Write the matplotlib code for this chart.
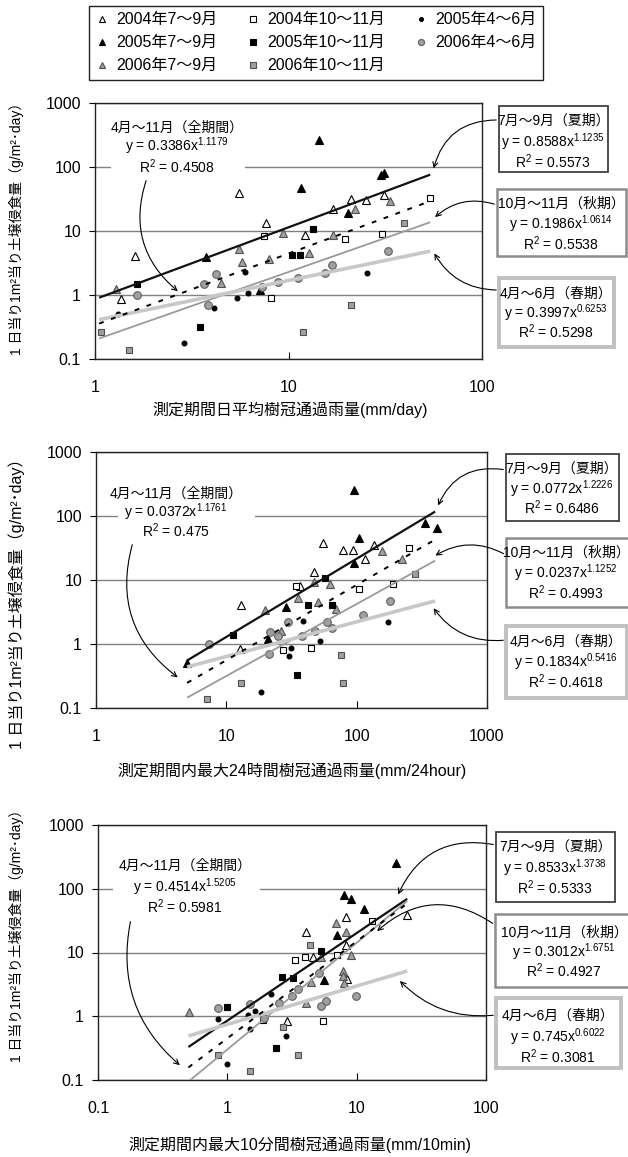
import numpy as np
import matplotlib
matplotlib.use('Agg')
import matplotlib.pyplot as plt
from matplotlib.lines import Line2D
from matplotlib.patches import Rectangle, FancyArrowPatch

plt.rcParams['font.family'] = ['Liberation Sans', 'Noto Sans CJK JP']
plt.rcParams['mathtext.fontset'] = 'custom'
plt.rcParams['mathtext.rm'] = 'Liberation Sans'
plt.rcParams['mathtext.it'] = 'Liberation Sans'
plt.rcParams['mathtext.default'] = 'regular'

# 系列 (凡例の列順)
series_labels = ['2004年7～9月', '2005年7～9月', '2006年7～9月',
                 '2004年10～11月', '2005年10～11月', '2006年10～11月',
                 '2005年4～6月', '2006年4～6月']

# --- パネル1: 日平均樹冠通過雨量 ---
p1_x = [[1.61, 1.37, 5.57, 7.64, 12.1, 17.0, 21.0, 25.2, 31.1],
        [3.76, 11.6, 14.3, 20.4, 30.2, 31.0, 7.15],
        [1.28, 5.57, 5.75, 7.95, 9.4, 4.47, 12.8, 17.0, 22.0, 33.6],
        [7.46, 8.15, 19.6, 30.5, 54],
        [1.65, 3.47, 10.4, 11.4, 13.4],
        [1.07, 1.50, 11.9, 21.0, 39.4],
        [1.32, 2.87, 4.1, 5.4, 5.98, 6.17, 25.4],
        [1.65, 3.64, 3.85, 4.23, 7.26, 8.8, 11.2, 15.4, 16.8, 32.7]]
p1_y = [[4.07, 0.88, 38.8, 13.2, 8.7, 21.8, 31.3, 30.5, 36.5],
        [3.88, 47.5, 263, 18.9, 74, 80, 1.2],
        [1.23, 5.17, 3.3, 3.6, 9.2, 1.56, 4.5, 8.55, 21.8, 29.4],
        [8.35, 0.90, 7.4, 8.9, 33],
        [1.47, 0.32, 4.17, 4.27, 10.9],
        [0.26, 0.138, 0.26, 0.71, 13.2],
        [0.51, 0.18, 0.63, 0.89, 2.32, 1.09, 2.23],
        [1.0, 1.5, 0.71, 2.15, 1.35, 1.6, 1.82, 2.23, 2.9, 4.8]]

# --- パネル2: 最大24時間樹冠通過雨量 ---
p2_x = [[12.9, 12.7, 54.7, 79, 93.7, 115, 135, 36.9, 47.2],
        [94.8, 103.5, 96, 332, 415, 28.6, 20.9, 5.0],
        [19.7, 26.5, 35.6, 46.7, 50.7, 62.7, 69.8, 156, 222],
        [34.3, 27.4, 45, 105, 190, 254],
        [11.3, 34.7, 42, 57.4, 64.2],
        [7.15, 12.9, 75.7, 78, 282],
        [18.4, 30.1, 31.6, 38.9, 51.9, 173],
        [7.36, 21.4, 21.7, 25, 29.8, 37.8, 47.8, 58.7, 64.2, 112, 181]]
p2_y = [[4.09, 0.85, 38, 29.3, 29.3, 21, 35.8, 8.2, 13.2],
        [257, 45.5, 18.6, 78, 66, 3.85, 1.2, 0.51],
        [3.34, 1.57, 5.19, 9.2, 4.5, 8.7, 3.54, 28.2, 21.2],
        [8.2, 0.82, 0.87, 7.25, 8.6, 32],
        [1.4, 0.33, 4.0, 10.9, 4.1],
        [0.136, 0.25, 0.68, 0.25, 12.4],
        [0.18, 0.64, 0.87, 2.25, 1.1, 2.17],
        [1.0, 0.70, 1.54, 1.32, 2.17, 1.32, 1.61, 2.17, 1.77, 2.79, 4.77]]

# --- パネル3: 最大10分間樹冠通過雨量 ---
p3_x = [[4.03, 8.32, 24.6, 4.59, 8.32, 8.37, 2.88],
        [20.3, 7.98, 9.1, 11.4, 7.09, 5.59],
        [0.506, 6.88, 8.22, 9.1, 7.89, 7.85, 7.98, 4.41, 4.03, 5.27],
        [13.2, 3.34, 3.98, 7.0, 5.53, 1.88],
        [1.0, 2.66, 3.2, 5.33, 2.36],
        [4.36, 2.68, 3.52, 0.84, 1.51],
        [0.84, 2.19, 1.51, 2.83, 1.0, 1.64, 1.45],
        [0.84, 1.51, 1.92, 2.52, 3.14, 3.52, 5.11, 5.33, 5.76, 9.8]]
p3_y = [[20.6, 35.9, 39, 8.65, 13.2, 3.86, 0.855],
        [253, 78.6, 69.7, 47.3, 18.9, 3.77],
        [1.18, 28.9, 20.9, 9.3, 5.2, 4.35, 3.34, 3.42, 1.6, 8.45],
        [31, 7.5, 8.45, 9.0, 0.83, 0.88],
        [1.38, 4.2, 4.0, 10.7, 0.314],
        [12.9, 0.67, 0.25, 0.25, 0.137],
        [0.89, 2.22, 0.63, 0.485, 0.176, 1.2, 1.05],
        [1.34, 1.56, 0.94, 1.6, 2.11, 2.69, 4.8, 1.47, 1.76, 2.11]]

# 近似式 y = a x^b (夏期, 秋期, 春期, 全期間)
trend_names = ['7月～9月（夏期）', '10月～11月（秋期）', '4月～6月（春期）', '4月～11月（全期間）']
p1_a = [0.8588, 0.1986, 0.3997, 0.3386]
p1_b = [1.1235, 1.0614, 0.6253, 1.1179]
p1_r2 = [0.5573, 0.5538, 0.5298, 0.4508]
p1_range = [1.05, 54]
p2_a = [0.0772, 0.0237, 0.1834, 0.0372]
p2_b = [1.2226, 1.1252, 0.5416, 1.1761]
p2_r2 = [0.6486, 0.4993, 0.4618, 0.475]
p2_range = [5, 400]
p3_a = [0.8533, 0.3012, 0.745, 0.4514]
p3_b = [1.3738, 1.6751, 0.6022, 1.5205]
p3_r2 = [0.5333, 0.4927, 0.3081, 0.5981]
p3_range = [0.5, 24.6]

x_ticks = [[1, 10, 100], [1, 10, 100, 1000], [0.1, 1, 10, 100]]
x_ticklabels = [['1', '10', '100'], ['1', '10', '100', '1000'], ['0.1', '1', '10', '100']]
y_ticks = [0.1, 1, 10, 100, 1000]
y_ticklabels = ['0.1', '1', '10', '100', '1000']
xlabels = ['測定期間日平均樹冠通過雨量(mm/day)',
           '測定期間内最大24時間樹冠通過雨量(mm/24hour)',
           '測定期間内最大10分間樹冠通過雨量(mm/10min)']
ylabel = '1 日当り1m²当り土壌侵食量（g/m²･day）'

# スタイル
markers = ['^', '^', '^', 's', 's', 's', 'o', 'o']
faces = ['white', 'black', '#a0a0a0', 'white', 'black', '#a0a0a0', 'black', '#a0a0a0']
edges = ['black', 'black', '#505050', 'black', 'black', '#505050', 'black', '#606060']
msizes = [6, 6, 6, 5, 5, 5, 3.5, 5.5]
t_colors = ['#111111', '#9a9a9a', '#c8c8c8', 'black']
t_lw = [1.6, 1.3, 2.6, 1.4]
t_ls = ['-', '-', '-', (0, (2.5, 4))]
box_ec = ['#404040', '#8c8c8c', '#c0c0c0']
box_lw = [1.3, 1.8, 2.8]

W, H = 628, 1157
fig = plt.figure(figsize=(W / 100, H / 100), dpi=100)


def fx(px):
    return px / W


def fy(py):
    return 1 - py / H


# レイアウト (ピクセル, 上が0)
ax_px = [(95, 103, 482, 359), (96, 452, 487, 708), (98, 825, 486, 1080)]
box_px = [[(499, 106, 608, 172, 553, [120, 142, 163]),
           (497, 189, 626, 256, 561, [203, 224, 245]),
           (499, 278, 614, 347, 556, [293, 313, 333])],
          [(506, 454, 619, 521, 562, [468, 489, 509]),
           (506, 538, 640, 607, 566, [552, 573, 594]),
           (506, 626, 627, 698, 566, [641, 662, 683])],
          [(496, 832, 615, 902, 555, [846, 868, 889]),
           (495, 914, 640, 987, 564, [932, 952, 972]),
           (496, 998, 621, 1068, 558, [1015, 1037, 1058])]]
all_px = [(177, [127, 146, 168], (111, 117, 245, 178)),
          (176, [493, 512, 532], (118, 483, 255, 543)),
          (185, [865, 887, 908], (113, 855, 260, 918))]
arrows_px = [[((499, 120), (433, 171), 0.4), ((497, 205), (433, 219), 0.3),
              ((499, 290), (433, 251), -0.3), ((147, 178), (180, 293), 0.35)],
             [((506, 470), (437, 508), 0.4), ((506, 555), (433, 557), 0.3),
              ((506, 640), (432, 606), -0.3), ((133, 542), (180, 679), 0.35)],
             [((496, 845), (397, 897), 0.4), ((495, 925), (375, 933), 0.4),
              ((496, 1015), (398, 979), -0.25), ((131, 919), (182, 1067), 0.3)]]
xlabel_px = [(290, 410), (292, 771), (300, 1145)]
ylabel_px = [(17, 225, 10), (17, 600, 11.5), (17, 932, 10)]

panels = [(p1_x, p1_y, p1_a, p1_b, p1_r2, p1_range),
          (p2_x, p2_y, p2_a, p2_b, p2_r2, p2_range),
          (p3_x, p3_y, p3_a, p3_b, p3_r2, p3_range)]

for i, (px_, py_, pa, pb, pr2, prange) in enumerate(panels):
    l, t, r, b = ax_px[i]
    ax = fig.add_axes([fx(l), fy(b), fx(r) - fx(l), fy(t) - fy(b)])
    ax.set_xscale('log')
    ax.set_yscale('log')
    ax.set_xlim(x_ticks[i][0], x_ticks[i][-1])
    ax.set_ylim(0.1, 1000)
    ax.set_xticks(x_ticks[i], x_ticklabels[i])
    ax.set_yticks(y_ticks, y_ticklabels)
    ax.minorticks_off()
    ax.tick_params(axis='x', direction='in', length=5, pad=15, labelsize=11.5)
    ax.tick_params(axis='y', direction='out', length=4, pad=6, labelsize=11.5)
    for s in ax.spines.values():
        s.set_color('#222222')
        s.set_linewidth(1)
    ax.yaxis.grid(True, color='#808080', lw=1)
    ax.set_axisbelow(True)

    for k in range(8):
        ax.plot(px_[k], py_[k], ls='none', marker=markers[k], mfc=faces[k],
                mec=edges[k], ms=msizes[k], mew=0.8, zorder=3)

    xs = np.array(prange)
    for k in range(4):
        ax.plot(xs, pa[k] * xs ** pb[k], color=t_colors[k], lw=t_lw[k],
                ls=t_ls[k], zorder=4, solid_capstyle='butt')

    # 季節別の近似式ボックス
    for k in range(3):
        x0, y0, x1, y1, cx, lys = box_px[i][k]
        fig.add_artist(Rectangle((fx(x0), fy(y1)), fx(x1) - fx(x0), fy(y0) - fy(y1),
                                 transform=fig.transFigure, fc='white',
                                 ec=box_ec[k], lw=box_lw[k], zorder=5))
        lines = [trend_names[k], f'y = {pa[k]}x$^{{{pb[k]}}}$', f'R$^{{2}}$ = {pr2[k]}']
        for ly, txt in zip(lys, lines):
            fig.text(fx(cx), fy(ly + 5), txt, ha='center', va='baseline',
                     fontsize=10, zorder=6)

    # 全期間
    cx, lys, (rx0, ry0, rx1, ry1) = all_px[i]
    fig.add_artist(Rectangle((fx(rx0), fy(ry1)), fx(rx1) - fx(rx0), fy(ry0) - fy(ry1),
                             transform=fig.transFigure, fc='white', ec='none', zorder=5))
    lines = [trend_names[3], f'y = {pa[3]}x$^{{{pb[3]}}}$', f'R$^{{2}}$ = {pr2[3]}']
    for ly, txt in zip(lys, lines):
        fig.text(fx(cx), fy(ly + 5), txt, ha='center', va='baseline', fontsize=10, zorder=6)

    for (ax0, ay0), (ax1, ay1), rad in arrows_px[i]:
        fig.add_artist(FancyArrowPatch((fx(ax0), fy(ay0)), (fx(ax1), fy(ay1)),
                                       transform=fig.transFigure, arrowstyle='->',
                                       connectionstyle=f'arc3,rad={rad}',
                                       mutation_scale=9, lw=0.8, color='black', zorder=7))

    fig.text(fx(xlabel_px[i][0]), fy(xlabel_px[i][1]), xlabels[i], ha='center',
             va='center', fontsize=11.5)
    yx, yy, yfs = ylabel_px[i]
    fig.text(fx(yx), fy(yy), ylabel, ha='center', va='center', rotation=90, fontsize=yfs)

# 凡例
handles = [Line2D([], [], ls='none', marker=markers[k], mfc=faces[k], mec=edges[k],
                  ms=msizes[k] * 0.8, mew=0.8) for k in range(8)]
fig.legend(handles, series_labels, ncol=3, loc='upper left',
           bbox_to_anchor=(fx(89), fy(81), fx(543) - fx(89), fy(6) - fy(81)),
           mode='expand', fontsize=11.5, frameon=True, fancybox=False,
           edgecolor='#222222', framealpha=1, handlelength=0.8, handletextpad=0.5,
           labelspacing=0.5, borderpad=0.4, borderaxespad=0)

fig.savefig('out.png', dpi=100)
